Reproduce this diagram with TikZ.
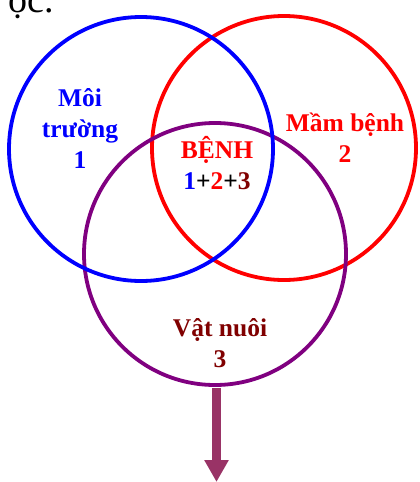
\documentclass[tikz,border=0pt]{standalone}
\usepackage{fontspec}
\setmainfont{Liberation Serif}
\usetikzlibrary{arrows.meta}
\definecolor{cblue}{RGB}{0,0,255}
\definecolor{cred}{RGB}{255,0,0}
\definecolor{cpurple}{RGB}{128,0,128}
\definecolor{cmaroon}{RGB}{128,0,0}
\definecolor{carrow}{RGB}{153,51,102}
\tikzset{
  ring/.style={circle, draw=#1, line width=3.8pt, inner sep=0pt, minimum size=264pt},
  lbl/.style={font=\bfseries\fontsize{25.5}{31}\selectfont, align=center, inner sep=0pt},
}
\begin{document}
\begin{tikzpicture}[x=1pt, y=-1pt]
\useasboundingbox (0,0) rectangle (420,482);
\fill[white] (0,0) rectangle (420,482);
\node[anchor=base east, font=\fontsize{38}{38}\selectfont, inner sep=0pt] (top) at (54,12) {ọc.};
\node[ring=cred] (mam) at (284,148) {};
\node[ring=cpurple, minimum size=262pt] (vat) at (215,254) {};
\node[ring=cblue] (moi) at (141,149) {};
\node[lbl, text=cblue] (tmoi) at (80,129) {Môi\\trường\\1};
\node[lbl, text=cred] (tmam) at (345,138) {Mầm bệnh\\2};
\node[lbl] (tbenh) at (217,163) {\textcolor{cred}{BỆNH}\\\textcolor{cblue}{1}+\textcolor{cred}{2}+\textcolor{cmaroon}{3}};
\node[lbl, text=cmaroon] (tvat) at (220,343) {Vật nuôi\\3};
\coordinate (as) at (216.5,388);
\coordinate (ae) at (216.5,482);
\draw[carrow, line width=9pt, -{Triangle[width=23pt,length=22pt]}] (as) -- (ae);
\end{tikzpicture}
\end{document}
